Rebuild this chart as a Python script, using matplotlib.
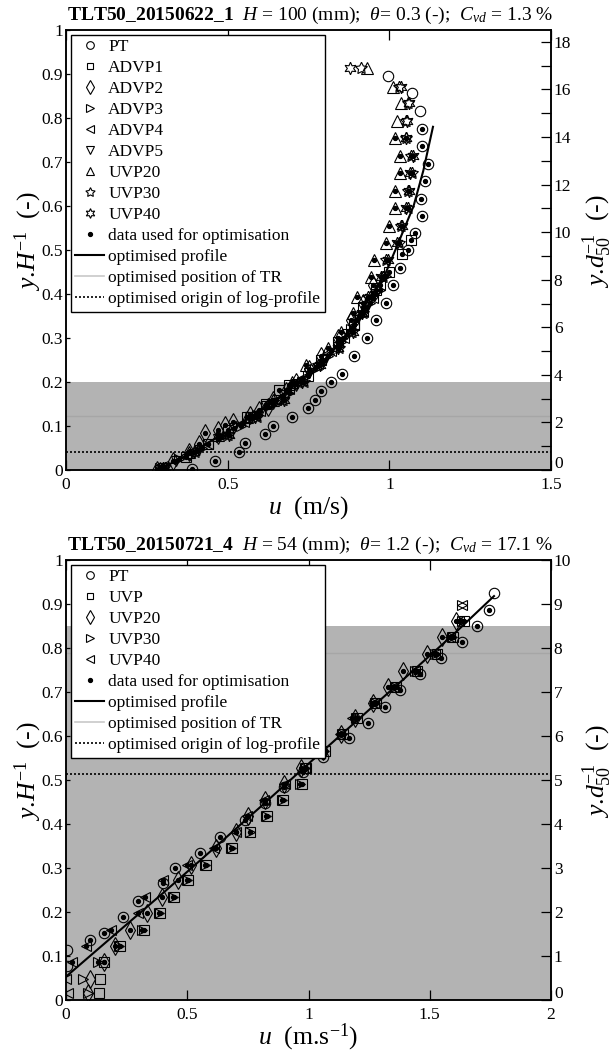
import numpy as np
import matplotlib
matplotlib.use("Agg")
import matplotlib.pyplot as plt
from matplotlib.lines import Line2D
from matplotlib.ticker import MultipleLocator, FuncFormatter

plt.rcParams['font.family'] = ['Liberation Serif', 'DejaVu Serif']
plt.rcParams['mathtext.fontset'] = 'custom'
plt.rcParams['mathtext.rm'] = 'Liberation Serif'
plt.rcParams['mathtext.it'] = 'Liberation Serif:italic'
plt.rcParams['mathtext.bf'] = 'Liberation Serif:bold'

# ---------------- run TLT50_20150622_1 ----------------
r1_title = "TLT50_20150622_1"
r1_H, r1_theta, r1_cvd = "100", "0.3", "1.3"
r1_ymax_d50 = 18.5          # H / d50
r1_shear_top = 0.20         # upper limit of shaded layer
r1_tr = 0.123               # optimised position of TR
r1_origin = 0.042           # optimised origin of log-profile
r1_opt_max = 0.78           # points below this level were used for optimisation

r1_pt_y = [0.895, 0.857, 0.816, 0.775, 0.736, 0.695, 0.657, 0.616, 0.577, 0.539, 0.500, 0.459,
           0.42, 0.38, 0.34, 0.30, 0.26, 0.218, 0.199, 0.179, 0.159, 0.140, 0.121, 0.101,
           0.081, 0.061, 0.042, 0.021, 0.002]
r1_pt_u = [0.997, 1.071, 1.096, 1.102, 1.102, 1.120, 1.111, 1.099, 1.102, 1.080, 1.059, 1.034,
           1.01, 0.99, 0.96, 0.93, 0.89, 0.854, 0.82, 0.79, 0.769, 0.748, 0.698, 0.640,
           0.616, 0.555, 0.534, 0.462, 0.391]

r1_advp1_y = [0.005, 0.03, 0.06, 0.09, 0.12, 0.15, 0.182, 0.193, 0.214, 0.25, 0.29, 0.33, 0.37,
              0.41, 0.45, 0.49, 0.523]
r1_advp1_u = [0.30, 0.37, 0.44, 0.50, 0.56, 0.62, 0.660, 0.691, 0.748, 0.79, 0.84, 0.89, 0.92,
              0.96, 1.00, 1.04, 1.067]

r1_advp2_y = [0.0, 0.02, 0.04, 0.06, 0.083, 0.091, 0.102, 0.110, 0.124, 0.136, 0.144, 0.16, 0.18,
              0.20, 0.23, 0.26, 0.30, 0.34, 0.38, 0.42]
r1_advp2_u = [0.28, 0.33, 0.38, 0.41, 0.431, 0.47, 0.493, 0.516, 0.570, 0.597, 0.624, 0.64, 0.68,
              0.71, 0.75, 0.79, 0.84, 0.88, 0.92, 0.95]

r1_advp3_y = [0.005, 0.025, 0.05, 0.075, 0.10, 0.125, 0.15, 0.175, 0.20, 0.23, 0.26, 0.29, 0.32,
              0.35, 0.38, 0.41, 0.44]
r1_advp3_u = [0.29, 0.35, 0.42, 0.48, 0.54, 0.59, 0.64, 0.69, 0.73, 0.77, 0.81, 0.85, 0.88,
              0.91, 0.94, 0.97, 0.99]

r1_advp4_y = [0.01, 0.035, 0.06, 0.085, 0.11, 0.135, 0.16, 0.185, 0.21, 0.24, 0.27, 0.30, 0.33,
              0.36, 0.39, 0.42]
r1_advp4_u = [0.30, 0.37, 0.44, 0.50, 0.55, 0.60, 0.65, 0.69, 0.73, 0.78, 0.82, 0.86, 0.89,
              0.92, 0.95, 0.97]

r1_advp5_y = [0.0, 0.02, 0.045, 0.07, 0.095, 0.12, 0.145, 0.17, 0.195, 0.22, 0.25, 0.28, 0.31,
              0.34, 0.37, 0.40]
r1_advp5_u = [0.29, 0.34, 0.41, 0.47, 0.52, 0.57, 0.62, 0.67, 0.71, 0.75, 0.80, 0.84, 0.87,
              0.90, 0.93, 0.96]

r1_uvp_y = [0.913, 0.871, 0.833, 0.794, 0.754, 0.714, 0.674, 0.635, 0.595, 0.555, 0.517, 0.477,
            0.439, 0.394, 0.356, 0.314, 0.277, 0.239, 0.200, 0.160, 0.120, 0.080, 0.040, 0.005]
r1_uvp20_u = [0.931, 1.012, 1.036, 1.023, 1.019, 1.034, 1.034, 1.019, 1.019, 1.000, 0.990, 0.954,
              0.943, 0.900, 0.887, 0.851, 0.810, 0.743, 0.700, 0.640, 0.560, 0.470, 0.380, 0.290]
r1_uvp30_u = [0.913, 1.029, 1.057, 1.051, 1.051, 1.067, 1.070, 1.057, 1.057, 1.036, 1.029, 0.990,
              0.979, 0.935, 0.920, 0.885, 0.845, 0.780, 0.735, 0.670, 0.590, 0.500, 0.400, 0.300]
r1_uvp40_u = [0.877, 1.035, 1.062, 1.055, 1.050, 1.072, 1.065, 1.060, 1.052, 1.040, 1.025, 0.995,
              0.975, 0.940, 0.915, 0.888, 0.840, 0.785, 0.730, 0.675, 0.585, 0.505, 0.395, 0.305]

r1_prof_y = [0.0, 0.02, 0.045, 0.075, 0.10, 0.13, 0.165, 0.20, 0.25, 0.31, 0.38, 0.45, 0.52,
             0.60, 0.68, 0.78]
r1_prof_u = [0.28, 0.34, 0.40, 0.47, 0.53, 0.59, 0.66, 0.72, 0.80, 0.87, 0.93, 0.99, 1.03,
             1.075, 1.105, 1.135]

# ---------------- run TLT50_20150721_4 ----------------
r2_title = "TLT50_20150721_4"
r2_H, r2_theta, r2_cvd = "54", "1.2", "17.1"
r2_ymax_d50 = 10.0
r2_shear_top = 0.85
r2_tr = 0.788
r2_origin = 0.514
r2_opt_min, r2_opt_max, r2_opt_umin = 0.08, 0.89, 0.01

r2_pt_y = [0.924, 0.886, 0.850, 0.814, 0.777, 0.741, 0.705, 0.667, 0.630, 0.595, 0.553, 0.519,
           0.483, 0.447, 0.410, 0.371, 0.335, 0.299, 0.265, 0.226, 0.188, 0.152, 0.137, 0.114,
           0.077]
r2_pt_u = [1.763, 1.745, 1.694, 1.632, 1.546, 1.459, 1.379, 1.317, 1.244, 1.165, 1.059, 0.977,
           0.900, 0.820, 0.740, 0.634, 0.551, 0.449, 0.400, 0.298, 0.233, 0.156, 0.099, 0.003,
           0.003]

r2_lev_y = [0.898, 0.861, 0.824, 0.786, 0.748, 0.711, 0.674, 0.640, 0.604, 0.566, 0.527, 0.490,
            0.455, 0.419, 0.382, 0.346, 0.307, 0.272, 0.235, 0.197, 0.159, 0.123, 0.087, 0.048,
            0.015]
r2_uvp_u = [np.nan, 1.640, 1.594, 1.528, 1.446, 1.362, 1.280, 1.199, 1.143, 1.070, 0.990, 0.972,
            0.896, 0.828, 0.760, 0.684, 0.576, 0.505, 0.444, 0.388, 0.320, 0.224, 0.158, 0.142,
            0.135]
r2_uvp20_u = [np.nan, 1.608, 1.550, 1.487, 1.388, 1.326, 1.267, 1.192, 1.134, 1.060, 0.970, 0.900,
              0.820, 0.750, 0.700, 0.620, 0.517, 0.460, 0.394, 0.332, 0.263, 0.202, 0.156, 0.100,
              0.092]
r2_uvp30_u = [1.635, 1.635, 1.590, 1.522, 1.440, 1.357, 1.276, 1.195, 1.138, 1.065, 0.985, 0.966,
              0.890, 0.826, 0.757, 0.680, 0.572, 0.500, 0.440, 0.383, 0.315, 0.220, 0.130, 0.071,
              0.092]
r2_uvp40_u = [1.635, 1.620, 1.585, 1.520, 1.440, 1.350, 1.270, 1.180, 1.130, 1.050, 0.985, 0.905,
              0.815, 0.745, 0.700, 0.610, 0.500, 0.400, 0.325, 0.298, 0.184, 0.082, 0.023, 0.000,
              0.010]

r2_prof_u = [0.0, 0.2, 0.4, 0.6, 0.8, 1.0, 1.2, 1.4, 1.6, 1.765]
r2_prof_y = [0.053, 0.148, 0.243, 0.340, 0.438, 0.537, 0.635, 0.733, 0.832, 0.918]

# ---------------- figure ----------------
W, H = 614, 1055
fig = plt.figure(figsize=(W / 100, H / 100), dpi=100)
ax1 = fig.add_axes([66 / W, 1 - 470 / H, 485 / W, 440 / H])
ax2 = fig.add_axes([66 / W, 1 - 1000 / H, 485 / W, 440 / H])

BAND = '#b3b3b3'
TRC = '#a6a6a6'
MKW = 0.8
LABEL_FS = 18.5
TICK_FS = 12.5

def star(n):
    return (n, 1, 0)

def mk(ax, u, y, marker, ms):
    ax.plot(u, y, linestyle='none', marker=marker, ms=ms, mfc='none', mec='black',
            mew=MKW, zorder=4)

def dots(ax, u, y, keep):
    u = np.asarray(u, float)
    y = np.asarray(y, float)
    m = keep(u, y) & ~np.isnan(u)
    ax.plot(u[m], y[m], linestyle='none', marker='o', ms=2.8, color='black', zorder=5)

def frame(ax, xmax, xstep, d50max, right_major, right_minor, xunit):
    ax.set_xlim(0, xmax)
    ax.set_ylim(0, 1)
    ax.xaxis.set_major_locator(MultipleLocator(xstep))
    ax.yaxis.set_major_locator(MultipleLocator(0.1))
    fmt = FuncFormatter(lambda v, p: f"{v:g}")
    ax.xaxis.set_major_formatter(fmt)
    ax.yaxis.set_major_formatter(fmt)
    ax.tick_params(axis='x', direction='in', top=True, length=7, width=0.9,
                   labelsize=TICK_FS, pad=5)
    ax.tick_params(axis='y', direction='in', length=3, width=0.9, labelsize=TICK_FS, pad=2)
    for s in ax.spines.values():
        s.set_linewidth(1.1)
    r = ax.twinx()
    r.set_ylim(0, d50max)
    r.yaxis.set_major_locator(MultipleLocator(right_major))
    r.yaxis.set_minor_locator(MultipleLocator(right_minor))
    # the right-hand zero is written separately, a little higher, clear of the x labels
    r.yaxis.set_major_formatter(FuncFormatter(lambda v, p: "" if abs(v) < 1e-9 else f"{v:g}"))
    r.tick_params(axis='y', which='both', direction='in', length=7.5, width=0.9,
                  labelsize=TICK_FS, pad=2)
    r.annotate("0", xy=(1, 0), xycoords='axes fraction', xytext=(2.2, 4),
               textcoords='offset points', ha='left', va='center', fontsize=TICK_FS)
    for s in r.spines.values():
        s.set_linewidth(1.1)
    ax.text(-0.078, 0.52, r"$y$.$H^{-1}$  (-)", rotation=90, transform=ax.transAxes,
            ha='center', va='center', fontsize=LABEL_FS)
    ax.text(1.095, 0.52, r"$y$.$d_{50}^{-1}$  (-)", rotation=90, transform=ax.transAxes,
            ha='center', va='center', fontsize=LABEL_FS)
    ax.text(0.5, -44 / 440, r"$u$  " + xunit, transform=ax.transAxes,
            ha='center', va='baseline', fontsize=LABEL_FS)
    return r

def title(ax, name, Hs, th, cvd):
    s = (r"$\mathbf{" + name.replace('_', r'\_') + r"}$  $H$ = " + Hs + r" (mm);  $\theta$= " +
         th + r" (-);  $C_{vd}$ = " + cvd + " %")
    ax.text(0.503, 1 + 15 / 440, s, transform=ax.transAxes, ha='center', va='center',
            fontsize=14)

def bands(ax, top, tr, origin):
    ax.axhspan(0, top, color=BAND, lw=0, zorder=0)
    ax.axhline(tr, color=TRC, lw=1.0, zorder=1)
    ax.axhline(origin, color='black', lw=1.2, ls=(0, (1.2, 1.2)), zorder=1)

def legend(ax, entries):
    handles = []
    for lab, m, ms in entries:
        if m == 'line':
            handles.append(Line2D([], [], color='black', lw=1.5, label=lab))
        elif m == 'tr':
            handles.append(Line2D([], [], color='#c8c8c8', lw=1.2, label=lab))
        elif m == 'dotted':
            handles.append(Line2D([], [], color='black', lw=1.2, ls=(0, (1.2, 1.2)), label=lab))
        elif m == 'dot':
            handles.append(Line2D([], [], ls='none', marker='o', ms=2.8, color='black', label=lab))
        else:
            handles.append(Line2D([], [], ls='none', marker=m, ms=ms, mfc='none', mec='black',
                                  mew=0.8, label=lab))
    leg = ax.legend(handles=handles, loc='upper left', bbox_to_anchor=(0.0103, 0.989),
                    borderaxespad=0, fontsize=12.5, labelspacing=0.28, borderpad=0.25,
                    handlelength=1.65, handletextpad=0.25, fancybox=False, framealpha=1,
                    edgecolor='black')
    leg.get_frame().set_linewidth(1.0)
    leg.set_zorder(10)

# ---- panel 1 ----
r1 = frame(ax1, 1.5, 0.5, r1_ymax_d50, 2, 1, "(m/s)")
title(ax1, r1_title, r1_H, r1_theta, r1_cvd)
bands(ax1, r1_shear_top, r1_tr, r1_origin)
mk(ax1, r1_pt_u, r1_pt_y, 'o', 7.5)
mk(ax1, r1_advp1_u, r1_advp1_y, 's', 6.5)
mk(ax1, r1_advp2_u, r1_advp2_y, 'd', 9)
mk(ax1, r1_advp3_u, r1_advp3_y, '>', 7.5)
mk(ax1, r1_advp4_u, r1_advp4_y, '<', 7.5)
mk(ax1, r1_advp5_u, r1_advp5_y, 'v', 7.5)
mk(ax1, r1_uvp20_u, r1_uvp_y, '^', 8)
mk(ax1, r1_uvp30_u, r1_uvp_y, star(5), 9)
mk(ax1, r1_uvp40_u, r1_uvp_y, star(6), 9)
keep1 = lambda u, y: y < r1_opt_max
for u, y in [(r1_pt_u, r1_pt_y), (r1_advp1_u, r1_advp1_y), (r1_advp2_u, r1_advp2_y),
             (r1_advp3_u, r1_advp3_y), (r1_advp4_u, r1_advp4_y), (r1_advp5_u, r1_advp5_y),
             (r1_uvp20_u, r1_uvp_y), (r1_uvp30_u, r1_uvp_y), (r1_uvp40_u, r1_uvp_y)]:
    dots(ax1, u, y, keep1)
ax1.plot(r1_prof_u, r1_prof_y, color='black', lw=1.5, zorder=6)
legend(ax1, [("PT", 'o', 5.5), ("ADVP1", 's', 5), ("ADVP2", 'd', 7), ("ADVP3", '>', 6),
             ("ADVP4", '<', 6), ("ADVP5", 'v', 6), ("UVP20", '^', 6), ("UVP30", star(5), 7),
             ("UVP40", star(6), 7), ("data used for optimisation", 'dot', 0),
             ("optimised profile", 'line', 0), ("optimised position of TR", 'tr', 0),
             ("optimised origin of log-profile", 'dotted', 0)])

# ---- panel 2 ----
r2 = frame(ax2, 2.0, 0.5, r2_ymax_d50, 1, 1, r"(m.s$^{-1}$)")
title(ax2, r2_title, r2_H, r2_theta, r2_cvd)
bands(ax2, r2_shear_top, r2_tr, r2_origin)
mk(ax2, r2_pt_u, r2_pt_y, 'o', 7.5)
mk(ax2, r2_uvp_u, r2_lev_y, 's', 6.5)
mk(ax2, r2_uvp20_u, r2_lev_y, 'd', 9)
mk(ax2, r2_uvp30_u, r2_lev_y, '>', 7.5)
mk(ax2, r2_uvp40_u, r2_lev_y, '<', 7.5)
keep2 = lambda u, y: (y > r2_opt_min) & (y < r2_opt_max) & (u > r2_opt_umin)
for u, y in [(r2_pt_u, r2_pt_y), (r2_uvp_u, r2_lev_y), (r2_uvp20_u, r2_lev_y),
             (r2_uvp30_u, r2_lev_y), (r2_uvp40_u, r2_lev_y)]:
    dots(ax2, u, y, keep2)
ax2.plot(r2_prof_u, r2_prof_y, color='black', lw=1.5, zorder=6)
legend(ax2, [("PT", 'o', 5.5), ("UVP", 's', 5), ("UVP20", 'd', 7), ("UVP30", '>', 6),
             ("UVP40", '<', 6), ("data used for optimisation", 'dot', 0),
             ("optimised profile", 'line', 0), ("optimised position of TR", 'tr', 0),
             ("optimised origin of log-profile", 'dotted', 0)])

fig.savefig("out.png", dpi=100)
